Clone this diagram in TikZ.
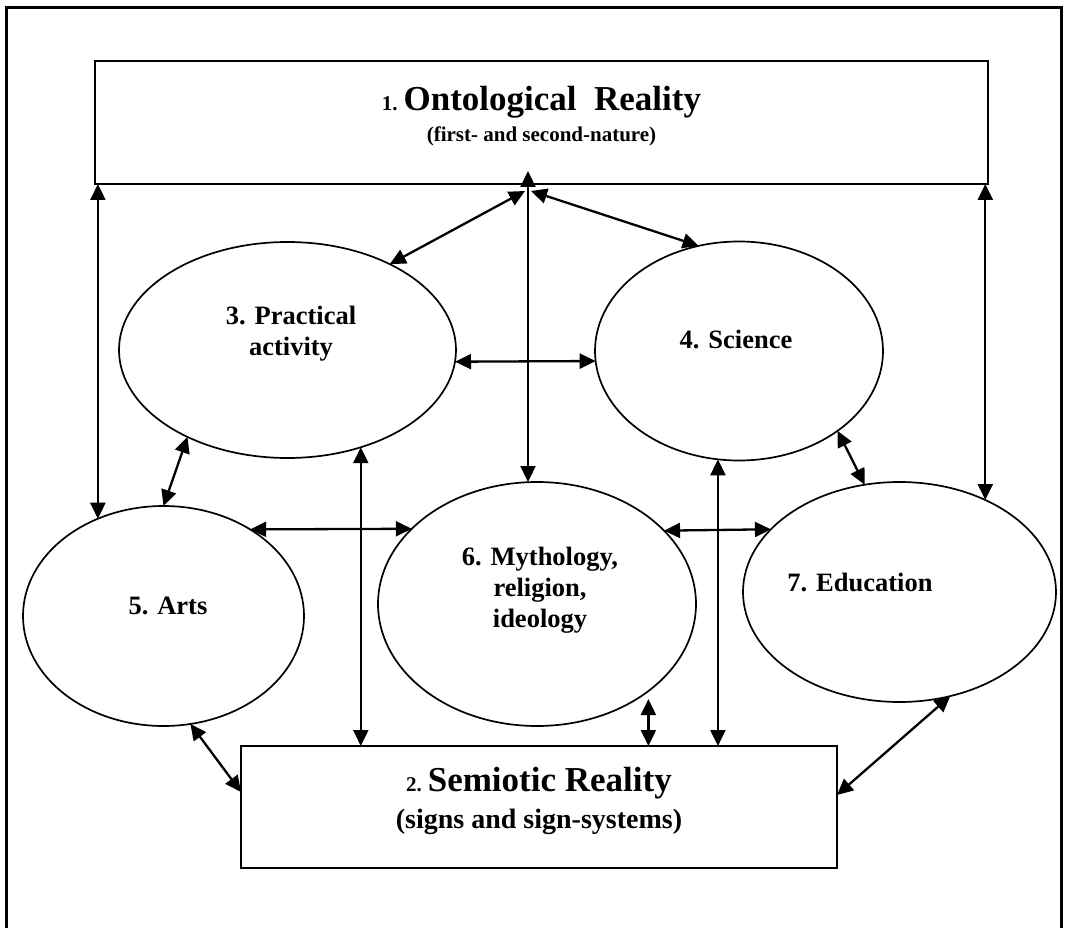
\documentclass[tikz,border=0pt]{standalone}
\usepackage{fontspec}
\setmainfont{Liberation Serif}
\usetikzlibrary{arrows.meta,shapes.geometric}

\begin{document}
\begin{tikzpicture}[
  x=1pt, y=-1pt,
  realm/.style={draw, line width=2pt, inner sep=0pt, outer sep=0pt},
  sphere/.style={draw, ellipse, line width=1.7pt, inner sep=0pt, outer sep=0pt},
  tag/.style={font=\fontsize{26.5}{31}\selectfont\bfseries, align=center, inner sep=0pt},
  head/.style={font=\fontsize{35}{40}\selectfont\bfseries, inner sep=0pt, anchor=base},
  sub/.style={font=\fontsize{21}{25}\selectfont\bfseries, inner sep=0pt, anchor=base},
  link/.style={line width=2.3pt, {Triangle[length=16pt,width=15pt]}-{Triangle[length=16pt,width=15pt]}}
]
\useasboundingbox (0,0) rectangle (1066,928);
\draw[line width=3pt] (6.5,930) -- (6.5,8) -- (1061.5,8) -- (1061.5,930);

\node[realm, minimum width=893pt, minimum height=123pt] (onto) at (541.5,122.5) {};
\node[realm, minimum width=596pt, minimum height=122pt] (semi) at (539,807) {};
\node[sphere, minimum width=337pt, minimum height=216pt] (prac) at (287.5,350) {};
\node[sphere, minimum width=288pt, minimum height=219pt] (sci) at (739,351) {};
\node[sphere, minimum width=281pt, minimum height=220pt] (arts) at (163.5,616) {};
\node[sphere, minimum width=318pt, minimum height=244pt] (myth) at (537,604) {};
\node[sphere, minimum width=313pt, minimum height=220pt] (edu) at (899.5,592) {};

\node[head] (ontotitle) at (541.5,111) {{\fontsize{21}{25}\selectfont 1.}\,Ontological\ \ Reality};
\node[sub] (ontosub) at (541.5,142) {(first- and second-nature)};
\node[head] (semititle) at (539,791) {{\fontsize{21}{25}\selectfont 2.}\,Semiotic Reality};
\node[sub, font=\fontsize{28}{32}\selectfont\bfseries] (semisub) at (539,828) {(signs and sign-systems)};

\node[tag] (practag) at (291,334) {3. Practical\\activity};
\node[tag, anchor=base] (scitag) at (736,348) {4. Science};
\node[tag, anchor=base] (artstag) at (168,614) {5. Arts};
\node[tag] (mythtag) at (540,590) {6. Mythology,\\religion,\\ideology};
\node[tag, anchor=base] (edutag) at (860,591) {7. Education};

\coordinate (hub) at (528,191);

\draw[link] (arts.124.8) -- (arts.124.8 |- onto.south);
\draw[link] (edu.47.8 |- onto.south) -- (edu.47.8);
\draw[link] ([yshift=13pt]onto.south -| hub) -- (hub |- myth.north);
\draw[link] (prac.40.3) -- ([xshift=-3pt]hub);
\draw[link] ([xshift=3pt]hub) -- (sci.111.8);
\draw[link] (prac.-4) -- (sci.184.3);
\draw[link] (prac.221.1) -- (arts.north);
\draw[link] (prac.-53.4) -- (prac.-53.4 |- semi.north);
\draw[link] (arts.45.3) -- (myth.149.3);
\draw[link] (myth.30.7) -- (edu.154.4);
\draw[link, shorten <=8pt] (myth.-38.2) -- (myth.-38.2 |- semi.north);
\draw[link] (sci.259.5) -- (sci.259.5 |- semi.north);
\draw[link] (sci.-39.2) -- (edu.108.4);
\draw[link] (edu.-64.1) -- ([yshift=12pt]semi.east);
\draw[link] (arts.-76.8) -- ([yshift=15pt]semi.west);
\end{tikzpicture}
\end{document}
